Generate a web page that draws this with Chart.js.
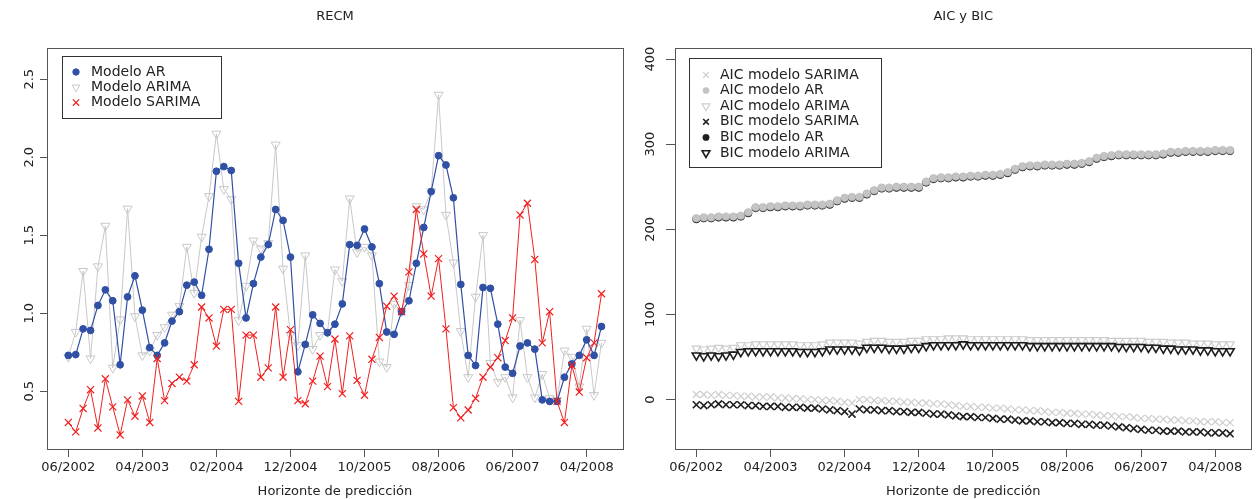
<!DOCTYPE html>
<html>
<head>
<meta charset="utf-8">
<script src="https://cdn.jsdelivr.net/npm/chart.js@4.4.1/dist/chart.umd.min.js"></script>
<style>
  body { margin: 0; background: #fff; }
  #wrap { position: relative; width: 1258px; height: 499px; }
  canvas { position: absolute; top: 0; }
</style>
</head>
<body>
<div id="wrap">
  <canvas id="recmChart" width="629" height="499" style="left:0"></canvas>
  <canvas id="icChart" width="629" height="499" style="left:629px"></canvas>
</div>
<script>
// Eje x: 73 meses de prediccion, 06/2002 ... 06/2008
const xTickPos = [0, 10, 20, 30, 40, 50, 60, 70];
const xTickLabels = ['06/2002', '04/2003', '02/2004', '12/2004', '10/2005', '08/2006', '06/2007', '04/2008'];
const yTicksRecm = [0.5, 1.0, 1.5, 2.0, 2.5];
const yTicksIc = [0, 100, 200, 300, 400];

// RECM
const recmAR = [0.73, 0.735, 0.90, 0.89, 1.05, 1.15, 1.08, 0.67, 1.105, 1.24, 1.02, 0.78, 0.73, 0.81, 0.95, 1.01, 1.18, 1.20, 1.115,
  1.41, 1.91, 1.94, 1.915, 1.32, 0.97, 1.19, 1.36, 1.44, 1.665, 1.595, 1.36, 0.625, 0.80, 0.99, 0.935, 0.875, 0.93, 1.06,
  1.44, 1.435, 1.54, 1.425, 1.19, 0.88, 0.865, 1.01, 1.08, 1.32, 1.55, 1.78, 2.01, 1.95, 1.74, 1.185, 0.73, 0.665, 1.165,
  1.16, 0.93, 0.655, 0.615, 0.79, 0.81, 0.77, 0.445, 0.435, 0.435, 0.59, 0.675, 0.73, 0.83, 0.73, 0.915];
const recmARIMA = [0.72, 0.88, 1.27, 0.71, 1.30, 1.56, 0.65, 0.96, 1.67, 0.98, 0.73, 0.76, 0.86, 0.91, 0.99, 1.045, 1.425, 1.13, 1.49,
  1.75, 2.15, 1.795, 1.73, 0.955, 1.175, 1.465, 1.415, 1.45, 2.08, 1.285, 0.86, 0.795, 1.37, 0.77, 0.86, 0.88, 1.28, 1.205,
  1.735, 1.39, 1.425, 1.37, 0.69, 0.655, 1.06, 1.01, 1.18, 1.685, 1.665, 1.78, 2.40, 1.63, 1.325, 0.885, 0.59, 1.105, 1.50,
  0.68, 0.56, 0.59, 0.46, 0.955, 0.59, 0.46, 0.61, 0.455, 0.445, 0.76, 0.72, 0.53, 0.90, 0.475, 0.81];
const recmSARIMA = [0.30, 0.24, 0.39, 0.51, 0.265, 0.58, 0.40, 0.22, 0.445, 0.34, 0.47, 0.30, 0.71, 0.44, 0.55, 0.59, 0.565, 0.67, 1.04,
  0.97, 0.79, 1.025, 1.025, 0.435, 0.86, 0.86, 0.59, 0.65, 1.04, 0.59, 0.895, 0.44, 0.42, 0.565, 0.725, 0.53, 0.835, 0.485,
  0.855, 0.57, 0.475, 0.705, 0.845, 1.045, 1.11, 1.01, 1.265, 1.665, 1.38, 1.11, 1.35, 0.90, 0.395, 0.33, 0.38, 0.455, 0.59,
  0.655, 0.715, 0.825, 0.97, 1.63, 1.705, 1.345, 0.81, 1.01, 0.435, 0.30, 0.665, 0.495, 0.715, 0.81, 1.125];

// AIC y BIC
const aicSarima = [6, 6, 5, 6, 5, 5, 4, 4, 3, 3, 3, 2, 2, 1, 1, 0, 0, -1, -1, -2, -3, -4,
  0, 0, -1, -1, -2, -2, -3, -3, -4, -4, -5, -5, -6, -7, -8,
  -8, -9, -9, -10, -10, -11, -12, -12, -13, -13, -14, -15, -15, -16, -16, -17, -17, -18, -19, -19,
  -20, -20, -21, -22, -22, -23, -23, -24, -24, -25, -25, -26, -26, -26, -27, -27];
const aicAr = [213, 214, 214, 215, 215, 215, 216, 220, 226, 226, 227, 227, 228, 228, 228, 229, 229, 229, 230, 234,
  237, 238, 238, 242, 246, 249, 249, 250, 250, 250, 250, 256, 260, 261, 261, 262, 262, 263, 263, 264,
  264, 265, 267, 271, 274, 275, 275, 276, 276, 276, 277, 277, 278, 280, 284, 286, 287, 288, 288, 288,
  288, 288, 288, 289, 291, 291, 292, 292, 292, 292, 293, 293, 293];
const aicArima = [60, 59, 60, 61, 60, 61, 64, 64, 65, 65, 65, 65, 65, 65, 64, 64, 64, 65, 67, 67, 67, 67, 66,
  68, 69, 69, 68, 68, 68, 69, 69, 71, 71, 71, 72, 72, 72, 71, 71, 71, 71, 71, 71, 71, 71, 70, 70, 70,
  70, 70, 70, 70, 70, 70, 70, 70, 69, 69, 69, 69, 69, 68, 68, 68, 67, 67, 67, 66, 66, 66, 65, 65, 65];
const bicSarima = [-6, -7, -6, -5, -6, -6, -6, -7, -7, -8, -8, -8, -9, -9, -9, -10, -10, -11, -12, -13, -14, -17,
  -11, -12, -12, -13, -13, -14, -14, -15, -15, -16, -17, -17, -18, -19, -20,
  -20, -21, -21, -22, -23, -23, -24, -25, -25, -26, -26, -27, -27, -28, -28, -29, -29, -30, -30, -31,
  -32, -33, -34, -35, -36, -36, -37, -37, -37, -38, -38, -38, -39, -39, -39, -40];
const bicAr = [212, 213, 213, 214, 214, 214, 215, 219, 225, 225, 226, 226, 227, 227, 227, 228, 228, 228, 229, 233,
  236, 237, 237, 241, 245, 248, 248, 249, 249, 249, 249, 255, 259, 260, 260, 261, 261, 262, 262, 263,
  263, 264, 266, 270, 273, 274, 274, 275, 275, 275, 276, 276, 277, 279, 283, 285, 286, 287, 287, 287,
  287, 287, 287, 288, 290, 290, 291, 291, 291, 291, 292, 292, 292];
const bicArima = [52, 51, 52, 51, 52, 53, 56, 57, 57, 57, 57, 57, 57, 57, 56, 56, 56, 57, 59, 59, 59, 59, 58,
  61, 61, 61, 60, 60, 60, 61, 61, 63, 64, 64, 64, 64, 65, 64, 64, 64, 64, 64, 64, 64, 64, 63, 63, 63,
  63, 63, 63, 63, 63, 63, 63, 63, 63, 62, 62, 62, 62, 61, 61, 60, 60, 59, 59, 59, 58, 58, 57, 57, 57];

const toXY = arr => arr.map((v, i) => ({ x: i, y: v }));

Chart.defaults.font.family = '"DejaVu Sans", sans-serif';
Chart.defaults.color = '#222';

// marco estilo R: caja, titulo, etiquetas y rotadas, leyenda con borde
const rFrame = {
    id: 'rFrame',
    afterDraw(chart, args, opts) {
        const { ctx, chartArea: a } = chart;
        const ys = chart.scales.y;
        ctx.save();
        ctx.strokeStyle = '#555';
        ctx.lineWidth = 1;
        ctx.strokeRect(Math.round(a.left) + 0.5, Math.round(a.top) + 0.5, Math.round(a.width), Math.round(a.height));

        ctx.fillStyle = '#222';
        ctx.textAlign = 'center';
        ctx.textBaseline = 'middle';
        ctx.font = '13px "DejaVu Sans"';
        ctx.fillText(opts.title, (a.left + a.right) / 2, 17);

        ys.ticks.forEach(t => {
            ctx.save();
            ctx.translate(a.left - opts.yLabelGap, ys.getPixelForValue(t.value));
            ctx.rotate(-Math.PI / 2);
            ctx.fillText(t.label, 0, 0);
            ctx.restore();
        });

        const lg = opts.legend;
        const bx = Math.round(a.left + lg.x), by = Math.round(a.top + lg.y);
        ctx.strokeStyle = '#333';
        ctx.strokeRect(bx + 0.5, by + 0.5, lg.w, lg.h);
        ctx.font = '14px "DejaVu Sans"';
        ctx.textAlign = 'left';
        chart.data.datasets.forEach((ds, i) => {
            const cy = by + lg.first + i * lg.gap;
            ctx.fillStyle = ds.pointBackgroundColor;
            ctx.strokeStyle = ds.pointBorderColor;
            ctx.lineWidth = ds.pointBorderWidth;
            Chart.helpers.drawPoint(ctx, {
                pointStyle: ds.pointStyle,
                rotation: ds.pointRotation || 0,
                radius: lg.radius[i],
                borderWidth: ds.pointBorderWidth
            }, bx + lg.markX, cy);
            ctx.fillStyle = '#222';
            ctx.fillText(ds.label, bx + lg.textX, cy);
        });
        ctx.restore();
    }
};

function xAxis(min, max) {
    return {
        type: 'linear',
        min: min,
        max: max,
        afterBuildTicks: s => { s.ticks = xTickPos.map(v => ({ value: v })); },
        afterFit: s => { s.height = 50; },
        ticks: {
            callback: (v, i) => xTickLabels[i],
            font: { size: 13 },
            padding: 3,
            maxRotation: 0,
            autoSkip: false
        },
        grid: { drawOnChartArea: false, tickLength: 8, tickColor: '#555' },
        border: { display: false },
        title: { display: true, text: 'Horizonte de predicción', font: { size: 13 }, padding: 0 }
    };
}

function yAxis(min, max, ticks, width, tickLen, fmt) {
    return {
        type: 'linear',
        min: min,
        max: max,
        afterBuildTicks: s => { s.ticks = ticks.map(v => ({ value: v })); },
        afterFit: s => { s.width = width; },
        ticks: { display: false, callback: fmt },
        grid: { drawOnChartArea: false, tickLength: tickLen, tickColor: '#555' },
        border: { display: false }
    };
}

const blue = '#3050a5';
const lightGray = '#c8c8c8';
const red = '#f02020';

new Chart(document.getElementById('recmChart'), {
    type: 'line',
    data: {
        datasets: [
            {
                label: 'Modelo AR',
                data: toXY(recmAR),
                borderColor: blue,
                borderWidth: 1.2,
                pointStyle: 'circle',
                pointRadius: 3.4,
                pointBackgroundColor: blue,
                pointBorderColor: blue,
                pointBorderWidth: 1,
                order: 2
            },
            {
                label: 'Modelo ARIMA',
                data: toXY(recmARIMA),
                borderColor: lightGray,
                borderWidth: 1,
                pointStyle: 'triangle',
                pointRotation: 180,
                pointRadius: 5.2,
                pointBackgroundColor: 'rgba(0,0,0,0)',
                pointBorderColor: lightGray,
                pointBorderWidth: 1,
                order: 3
            },
            {
                label: 'Modelo SARIMA',
                data: toXY(recmSARIMA),
                borderColor: red,
                borderWidth: 1,
                pointStyle: 'crossRot',
                pointRadius: 5,
                pointBackgroundColor: red,
                pointBorderColor: red,
                pointBorderWidth: 1.2,
                order: 1
            }
        ]
    },
    options: {
        responsive: false,
        animation: false,
        events: [],
        layout: { padding: { top: 48, right: 3, bottom: 0, left: 0 } },
        scales: {
            x: xAxis(-2.88, 74.88),
            y: yAxis(0.13, 2.70, yTicksRecm, 47, 7, v => v.toFixed(1))
        },
        plugins: {
            legend: { display: false },
            tooltip: { enabled: false },
            rFrame: {
                title: 'RECM',
                yLabelGap: 17,
                legend: { x: 15, y: 8, w: 159, h: 62, first: 16, gap: 15.3, markX: 14, textX: 29, radius: [3.2, 4.5, 4.5] }
            }
        }
    },
    plugins: [rFrame]
});

const paleGray = '#cdcdcd';
const dark = '#1e1e1e';

new Chart(document.getElementById('icChart'), {
    type: 'line',
    data: {
        datasets: [
            {
                label: 'AIC modelo SARIMA',
                data: toXY(aicSarima),
                showLine: false,
                pointStyle: 'crossRot',
                pointRadius: 5,
                pointBackgroundColor: paleGray,
                pointBorderColor: paleGray,
                pointBorderWidth: 1.2,
                order: 2
            },
            {
                label: 'AIC modelo AR',
                data: toXY(aicAr),
                showLine: false,
                pointStyle: 'circle',
                pointRadius: 3.8,
                pointBackgroundColor: '#c4c4c4',
                pointBorderColor: '#bcbcbc',
                pointBorderWidth: 0.6,
                order: 5
            },
            {
                label: 'AIC modelo ARIMA',
                data: toXY(aicArima),
                showLine: false,
                pointStyle: 'triangle',
                pointRotation: 180,
                pointRadius: 4.8,
                pointBackgroundColor: 'rgba(0,0,0,0)',
                pointBorderColor: paleGray,
                pointBorderWidth: 1.2,
                order: 4
            },
            {
                label: 'BIC modelo SARIMA',
                data: toXY(bicSarima),
                showLine: false,
                pointStyle: 'crossRot',
                pointRadius: 5,
                pointBackgroundColor: dark,
                pointBorderColor: dark,
                pointBorderWidth: 1.6,
                order: 1
            },
            {
                label: 'BIC modelo AR',
                data: toXY(bicAr),
                showLine: false,
                pointStyle: 'circle',
                pointRadius: 3.8,
                pointBackgroundColor: dark,
                pointBorderColor: dark,
                pointBorderWidth: 0.6,
                order: 6
            },
            {
                label: 'BIC modelo ARIMA',
                data: toXY(bicArima),
                showLine: false,
                pointStyle: 'triangle',
                pointRotation: 180,
                pointRadius: 4.8,
                pointBackgroundColor: 'rgba(0,0,0,0)',
                pointBorderColor: dark,
                pointBorderWidth: 1.6,
                order: 3
            }
        ]
    },
    options: {
        responsive: false,
        animation: false,
        events: [],
        layout: { padding: { top: 48, right: 2, bottom: 0, left: 0 } },
        scales: {
            x: xAxis(-2.88, 74.88),
            y: yAxis(-58, 413, yTicksIc, 46, 9, v => String(v))
        },
        plugins: {
            legend: { display: false },
            tooltip: { enabled: false },
            rFrame: {
                title: 'AIC y BIC',
                yLabelGap: 24,
                legend: { x: 14, y: 10, w: 192, h: 109, first: 17, gap: 15.6, markX: 17, textX: 31, radius: [4, 3, 4.5, 4, 3.2, 4.5] }
            }
        }
    },
    plugins: [rFrame]
});
</script>
</body>
</html>
